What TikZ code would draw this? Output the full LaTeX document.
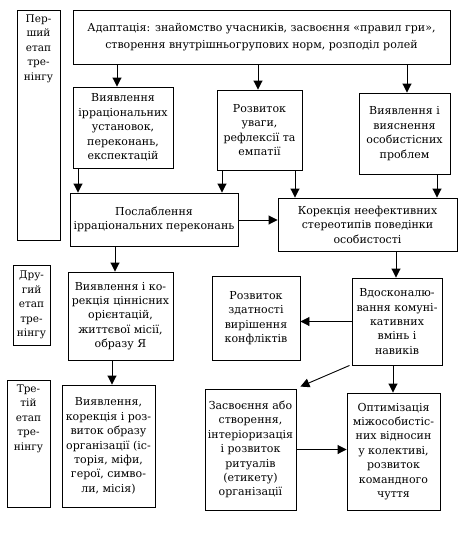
\documentclass[tikz,border=0pt]{standalone}
\usepackage{fontspec}
\setmainfont{DejaVu Serif}
\usetikzlibrary{arrows.meta}
\begin{document}
\begin{tikzpicture}[x=1pt,y=-1pt,
  box/.style={draw, line width=0.9pt, align=center, inner sep=0pt, font=\fontsize{11}{14.4}\selectfont},
  stagetxt/.style={align=center, inner sep=0pt, font=\fontsize{10.5}{14.5}\selectfont},
  arr/.style={line width=0.9pt, -{Triangle[width=9pt,length=9pt]}}]
\useasboundingbox (0,0) rectangle (462,555);
% stage boxes
\node[box, minimum width=43, minimum height=230] (s1) at (38.5,125) {};
\node[stagetxt, anchor=north] (s1t) at ([yshift=-5pt]s1.north) {Пер-\\ший\\етап\\тре-\\нінгу};
\node[box, minimum width=37, minimum height=80] (s2) at (31.5,305) {};
\node[stagetxt] (s2t) at (s2.center) {Дру-\\гий\\етап\\тре-\\нінгу};
\node[box, minimum width=43, minimum height=127] (s3) at (28.5,443.5) {};
\node[stagetxt, anchor=north] (s3t) at ([yshift=-5pt]s3.north) {Тре-\\тій\\етап\\тре-\\нінгу};
% main boxes
\node[box, minimum width=377, minimum height=54, font=\fontsize{11}{17}\selectfont] (top) at (261.5,37)
  {Адаптація: знайомство учасників, засвоєння «правил гри»,\\створення внутрішньогрупових норм, розподіл ролей};
\node[box, minimum width=100, minimum height=81] (b1) at (123,127.5)
  {Виявлення\\ірраціональних\\установок,\\переконань,\\експектацій};
\node[box, minimum width=85, minimum height=80] (b2) at (259.5,130)
  {Розвиток\\уваги,\\рефлексії та\\емпатії};
\node[box, minimum width=91, minimum height=81] (b3) at (404.5,133.5)
  {Виявлення і\\вияснення\\особистісних\\проблем};
\node[box, minimum width=168, minimum height=53] (p) at (154,219.5)
  {Послаблення\\ірраціональних переконань};
\node[box, minimum width=179, minimum height=53] (k) at (367.5,224.5)
  {Корекція неефективних\\стереотипів поведінки\\особистості};
\node[box, minimum width=105, minimum height=88] (c2) at (120.5,316)
  {Виявлення і ко-\\рекція ціннісних\\орієнтацій,\\життєвої місії,\\образу Я};
\node[box, minimum width=88, minimum height=84] (r) at (256,318)
  {Розвиток\\здатності\\вирішення\\конфліктів};
\node[box, minimum width=90, minimum height=87] (v) at (397,321.5)
  {Вдосконалю-\\вання комуні-\\кативних\\вмінь і\\навиків};
\node[box, minimum width=93, minimum height=122] (o3) at (108.5,446)
  {Виявлення,\\корекція і роз-\\виток образу\\організації (іс-\\торія, міфи,\\герої, симво-\\ли, місія)};
\node[box, minimum width=91, minimum height=121] (z) at (250.5,449.5)
  {Засвоєння або\\створення,\\інтеріоризація\\і розвиток\\ритуалів\\(етикету)\\організації};
\node[box, minimum width=93, minimum height=117] (opt) at (393.5,451.5)
  {Оптимізація\\міжособистіс-\\них відносин\\у колективі,\\розвиток\\командного\\чуття};
% helper x positions
\coordinate (x117) at (117,0);
\coordinate (x258) at (258,0);
\coordinate (x407) at (407,0);
\coordinate (x78) at (78,0);
\coordinate (x222) at (222,0);
\coordinate (x295) at (295,0);
\coordinate (x437) at (437,0);
\coordinate (x115) at (115,0);
\coordinate (x396) at (396,0);
\coordinate (x393) at (393,0);
\coordinate (x112) at (112,0);
\coordinate (y220) at (0,220);
% connectors
\draw[arr] (top.south -| x117) -- (b1.north -| x117);
\draw[arr] (top.south -| x258) -- (b2.north -| x258);
\draw[arr] (top.south -| x407) -- (b3.north -| x407);
\draw[arr] (b1.south -| x78) -- (p.north -| x78);
\draw[arr] (b2.south -| x222) -- (p.north -| x222);
\draw[arr] (b2.south -| x295) -- (k.north -| x295);
\draw[arr] (b3.south -| x437) -- (k.north -| x437);
\draw[arr] (p.east |- y220) -- (k.west |- y220);
\draw[arr] (p.south -| x115) -- (c2.north -| x115);
\draw[arr] (k.south -| x396) -- (v.north -| x396);
\draw[arr] (v.west) -- (r.east |- v.west);
\draw[arr] ([xshift=-2pt]v.south west) -- ([shift={(4pt,2pt)}]z.north east);
\draw[arr] (v.south -| x393) -- (opt.north -| x393);
\draw[arr] (c2.south -| x112) -- (o3.north -| x112);
\draw[arr] (z.east) -- (opt.west |- z.east);
\end{tikzpicture}
\end{document}
